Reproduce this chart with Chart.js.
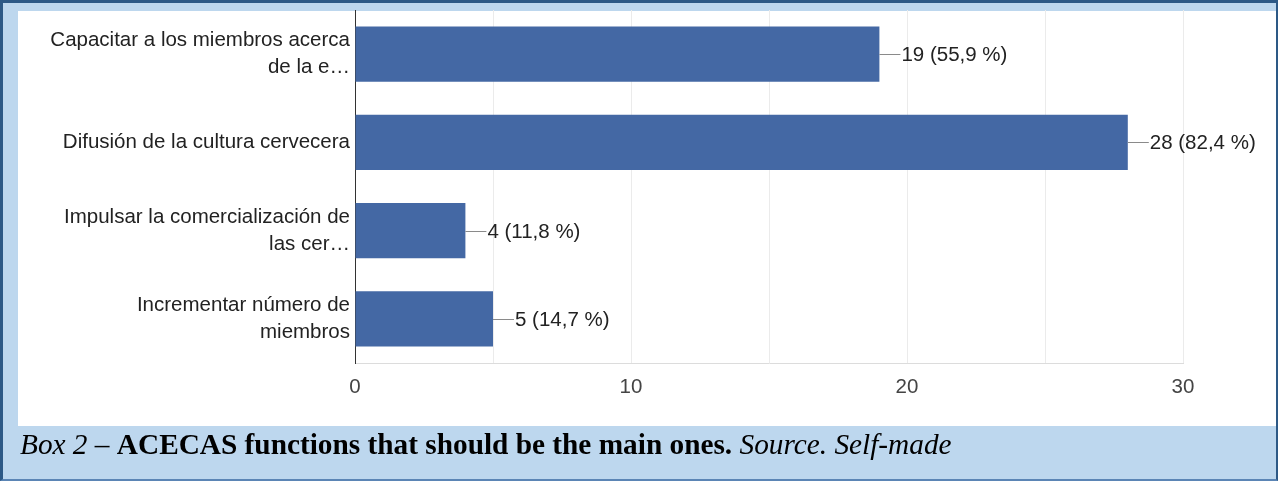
<!DOCTYPE html>
<html>
<head>
<meta charset="utf-8">
<script src="https://cdn.jsdelivr.net/npm/chart.js@4"></script>
<style>
  html, body { margin: 0; padding: 0; }
  #frame {
    position: relative;
    width: 1278px;
    height: 481px;
    box-sizing: border-box;
    background: #bdd7ee;
    border-top: 3px solid #2d5986;
    border-left: 3px solid #2d5986;
    border-right: 2px solid #2d5986;
    border-bottom: 2px solid #5b85b5;
    overflow: hidden;
  }
  #panel {
    position: absolute;
    left: 15px;
    top: 8px;
    width: 1258px;
    height: 415px;
    background: #fff;
  }
  #stats {
    position: absolute;
    left: -3px;
    top: -3px;
  }
  #caption {
    position: absolute;
    left: 17px;
    top: 423px;
    height: 36px;
    line-height: 36px;
    font-family: "Liberation Serif", "Times New Roman", serif;
    font-size: 29.3px;
    color: #000;
    white-space: nowrap;
  }
</style>
</head>
<body>
<div id="frame">
  <div id="panel"></div>
  <canvas id="stats" width="1278" height="481"></canvas>
  <div id="caption"><i>Box 2 – </i><b>ACECAS functions that should be the main ones.</b><i> Source. Self-made</i></div>
</div>
<script>
const categories = [
    ['Capacitar a los miembros acerca', 'de la e…'],
    'Difusión de la cultura cervecera',
    ['Impulsar la comercialización de', 'las cer…'],
    ['Incrementar número de', 'miembros'],
];
const counts = [19, 28, 4, 5];
const shares = ['55,9', '82,4', '11,8', '14,7'];
const xTicks = [0, 10, 20, 30];

const font = { family: '"Liberation Sans", Arial, sans-serif', size: 20.5 };

// value callouts: short leader line, then "n (p %)"
const valueLabels = {
    id: 'valueLabels',
    afterDatasetsDraw(chart) {
        const c = chart.ctx;
        const meta = chart.getDatasetMeta(0);
        c.save();
        c.font = font.size + 'px ' + font.family;
        c.textBaseline = 'middle';
        c.textAlign = 'left';
        meta.data.forEach((bar, i) => {
            const y = Math.round(bar.y) + 0.5;
            c.strokeStyle = '#8a8a8a';
            c.lineWidth = 1;
            c.beginPath();
            c.moveTo(bar.x, y);
            c.lineTo(bar.x + 21, y);
            c.stroke();
            c.fillStyle = '#222';
            c.fillText(counts[i] + ' (' + shares[i] + ' %)', bar.x + 22, y + 1);
        });
        c.restore();
    }
};

const ctx = document.getElementById('stats').getContext('2d');

new Chart(ctx, {
    type: 'bar',
    data: {
        labels: categories,
        datasets: [{
            data: counts,
            backgroundColor: '#4468a4',
            borderWidth: 0,
            categoryPercentage: 1,
            barPercentage: 0.625,
        }]
    },
    plugins: [valueLabels],
    options: {
        indexAxis: 'y',
        responsive: false,
        animation: false,
        layout: { padding: { top: 10, right: 95, bottom: 0, left: 0 } },
        plugins: {
            legend: { display: false },
            tooltip: { enabled: false }
        },
        scales: {
            x: {
                min: 0,
                max: 30,
                afterFit(scale) {
                    scale.height = 118;
                    scale.paddingLeft = 0;
                    scale.paddingRight = 0;
                },
                grid: { color: '#ebebeb', drawTicks: false },
                border: { color: '#dcdcdc' },
                ticks: {
                    stepSize: 5,
                    padding: 12,
                    color: '#444',
                    font,
                    callback: v => xTicks.includes(v) ? String(v) : ''
                }
            },
            y: {
                z: 1,
                afterFit(scale) {
                    scale.width = 355;
                    scale.paddingTop = 0;
                    scale.paddingBottom = 0;
                },
                grid: { display: false, drawTicks: false },
                border: { color: '#333', width: 1 },
                ticks: {
                    padding: 5,
                    color: '#222',
                    font: { ...font, lineHeight: 1.32 }
                }
            }
        }
    }
});
</script>
</body>
</html>
